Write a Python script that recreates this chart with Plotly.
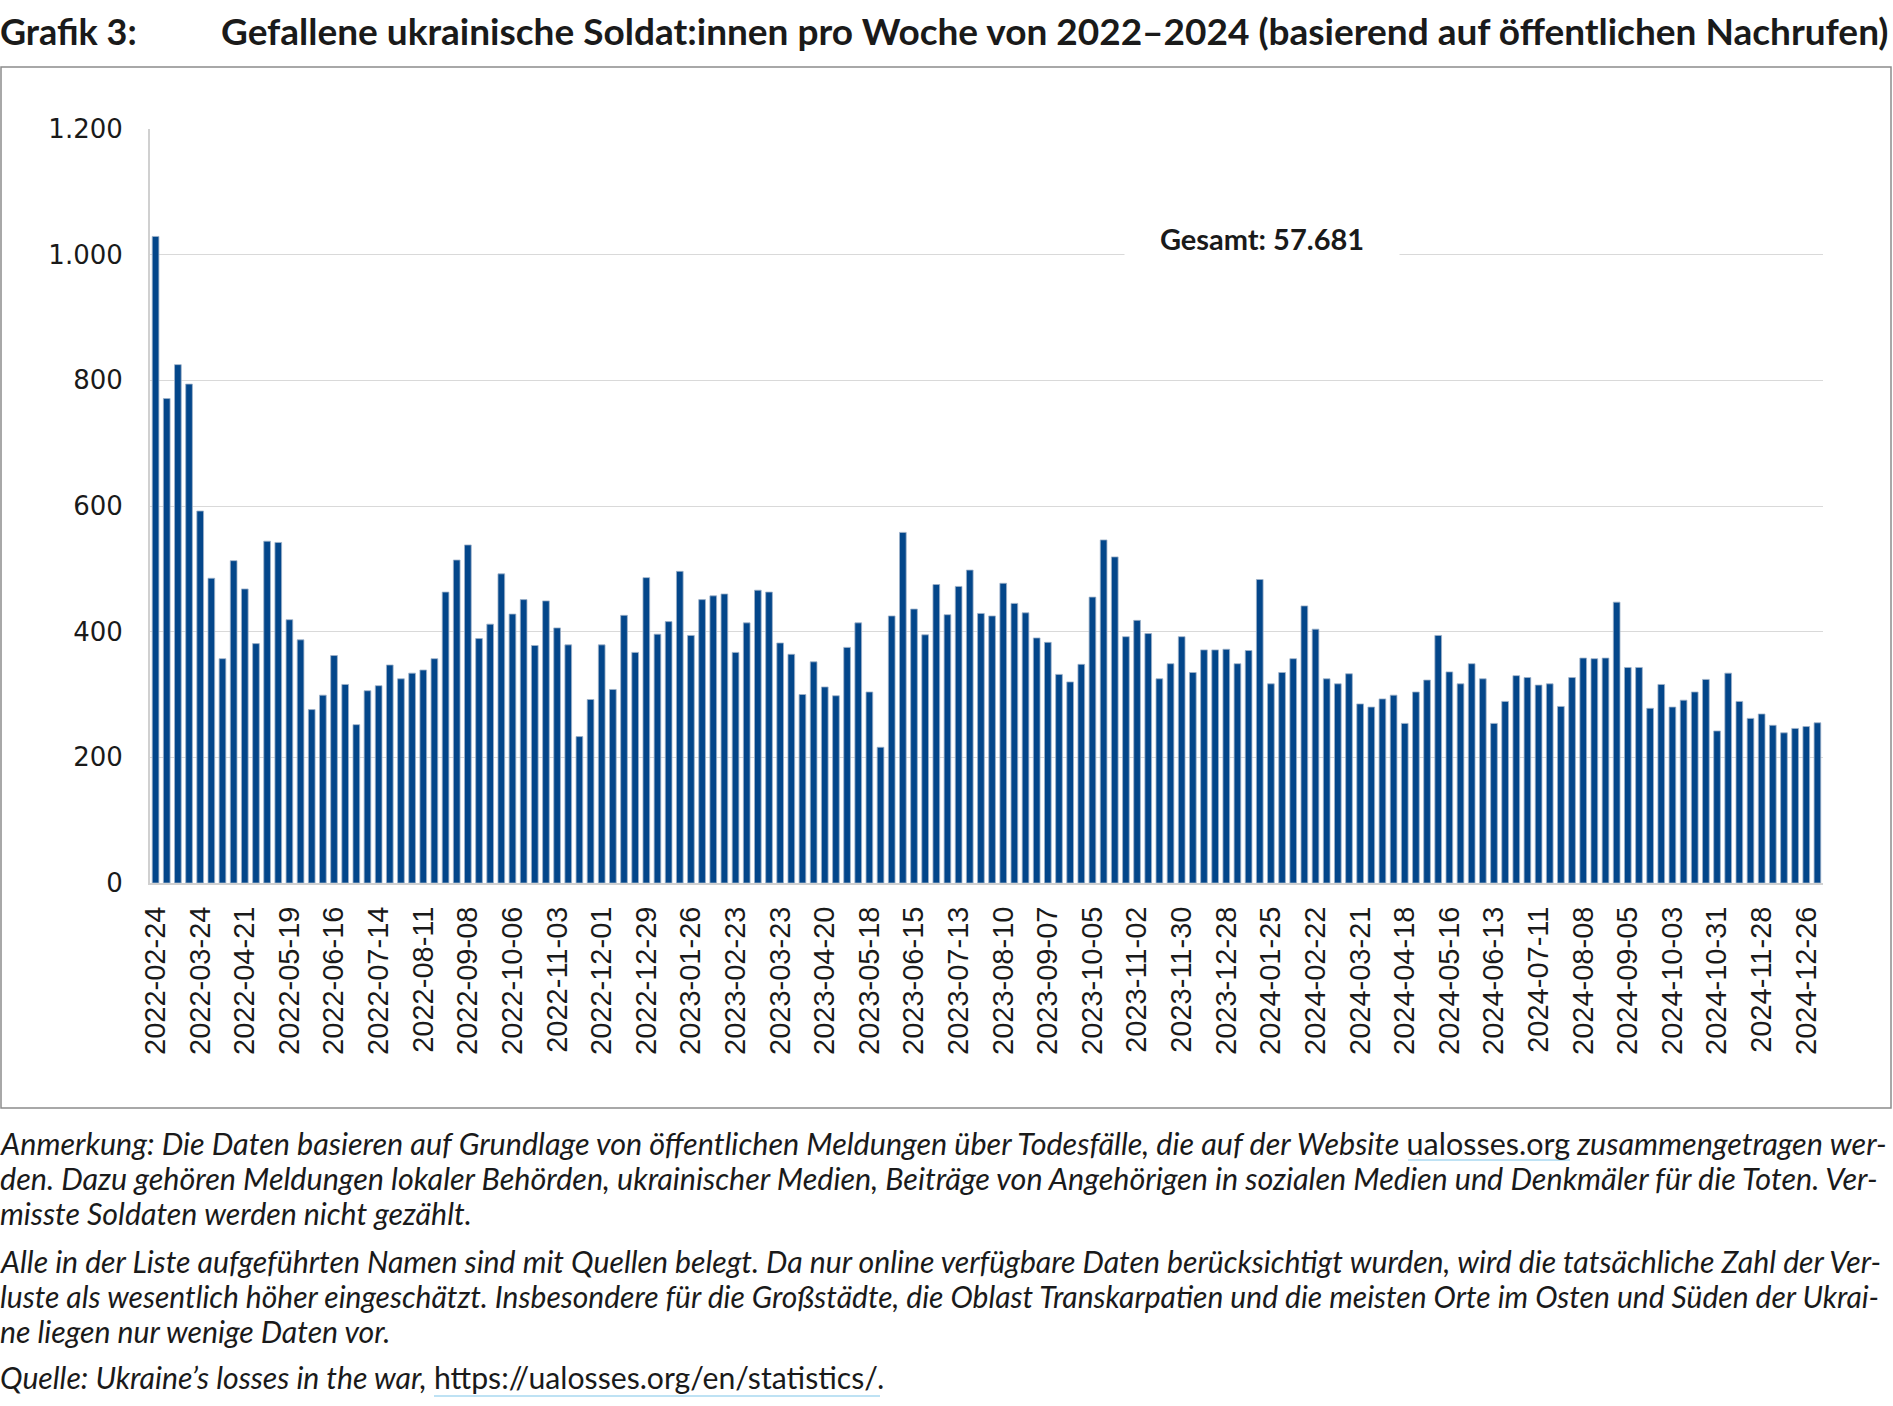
import pandas as pd
import plotly.graph_objects as go

# ---- data ----
first_week = "2022-02-24"
n_weeks = 150
weeks = [d.strftime("%Y-%m-%d") for d in pd.date_range(first_week, periods=n_weeks, freq="7D")]
deaths = [
    1029, 771, 825, 794, 592, 485, 357, 513, 468, 381,
    544, 542, 419, 387, 276, 299, 362, 316, 252, 306,
    314, 347, 325, 334, 339, 357, 463, 514, 538, 389,
    412, 492, 428, 451, 378, 449, 406, 379, 233, 292,
    379, 308, 426, 367, 486, 396, 416, 496, 394, 451,
    457, 460, 367, 414, 466, 463, 382, 364, 300, 352,
    312, 298, 375, 414, 304, 216, 425, 558, 436, 395,
    475, 427, 472, 498, 429, 425, 477, 445, 430, 390,
    383, 332, 320, 348, 455, 546, 519, 392, 418, 397,
    325, 349, 392, 335, 371, 371, 372, 349, 370, 483,
    317, 335, 357, 441, 404, 325, 317, 333, 285, 280,
    293, 299, 254, 304, 323, 394, 336, 317, 349, 325,
    254, 289, 330, 327, 315, 317, 281, 327, 358, 357,
    358, 447, 343, 343, 278, 316, 280, 291, 304, 324,
    242, 334, 289, 262, 269, 251, 239, 246, 249, 255,
]
tick_weeks = weeks[0:149:4]
y_ticks = [0, 200, 400, 600, 800, 1000, 1200]
y_tick_labels = ["0", "200", "400", "600", "800", "1.000", "1.200"]

title_label = "Grafik 3:"
title_text = "Gefallene ukrainische Soldat:innen pro Woche von 2022–2024 (basierend auf öffentlichen Nachrufen)"
total_text = "Gesamt: 57.681"
note_lines = [
    "<i>Anmerkung: Die Daten basieren auf Grundlage von öffentlichen Meldungen über Todesfälle, die auf der Website </i>"
    "ualosses.org<i> zusammengetragen wer-</i>",
    "<i>den. Dazu gehören Meldungen lokaler Behörden, ukrainischer Medien, Beiträge von Angehörigen in sozialen Medien und Denkmäler für die Toten. Ver-</i>",
    "<i>misste Soldaten werden nicht gezählt.</i>",
    "<i>Alle in der Liste aufgeführten Namen sind mit Quellen belegt. Da nur online verfügbare Daten berücksichtigt wurden, wird die tatsächliche Zahl der Ver-</i>",
    "<i>luste als wesentlich höher eingeschätzt. Insbesondere für die Großstädte, die Oblast Transkarpatien und die meisten Orte im Osten und Süden der Ukrai-</i>",
    "<i>ne liegen nur wenige Daten vor.</i>",
    "<i>Quelle: Ukraine’s losses in the war, </i>https://ualosses.org/en/statistics/<i>.</i>",
]
note_y = [1143, 1178, 1213, 1261, 1296, 1331, 1377]
note_size = [30.5, 30.5, 30.3, 30.2, 30.0, 30.2, 30.2]

# ---- layout geometry (pixels) ----
W, H = 1893, 1406
L, R, T, B = 150, 70, 129, 523
pw, ph = W - L - R, H - T - B


def px(x):
    return (x - L) / pw


def py(y):
    return (H - B - y) / ph


BAR = "#03468a"
TXT = "#1a1a1a"

fig = go.Figure()
fig.add_trace(go.Bar(
    x=weeks, y=deaths,
    marker=dict(color=BAR, line=dict(color="#9fb2c9", width=0.8)),
    hoverinfo="x+y",
))

fig.update_layout(
    width=W, height=H,
    margin=dict(l=L, r=R, t=T, b=B),
    paper_bgcolor="white", plot_bgcolor="white",
    showlegend=False, bargap=0.4,
    font=dict(family="Lato", color=TXT),
)
fig.update_xaxes(
    type="category", range=[-0.5, n_weeks - 0.5],
    tickmode="array", tickvals=tick_weeks, ticktext=tick_weeks,
    tickangle=-90, tickfont=dict(family="Liberation Sans", size=29, color=TXT),
    showgrid=False, showline=True, linecolor="#d0d0d0", linewidth=2,
    ticks="", ticklabelstandoff=10,
)
fig.update_yaxes(
    range=[0, 1200], tickmode="array", tickvals=y_ticks, ticktext=y_tick_labels,
    tickfont=dict(family="DejaVu Sans", size=26, color=TXT),
    showgrid=True, gridcolor="#d9d9d9", gridwidth=1,
    showline=True, linecolor="#d0d0d0", linewidth=2, zeroline=False,
    ticks="", ticklabelstandoff=20,
)

# outer frame around chart
fig.add_shape(type="rect", xref="paper", yref="paper",
              x0=px(1), x1=px(1891), y0=py(1108), y1=py(67),
              line=dict(color="#8c8c8c", width=1.5), fillcolor="rgba(0,0,0,0)", layer="below")

# link underlines
for x0, x1, yy in [(1408, 1570, 1160), (434, 880, 1396)]:
    fig.add_shape(type="line", xref="paper", yref="paper",
                  x0=px(x0), x1=px(x1), y0=py(yy), y1=py(yy),
                  line=dict(color="#a9d8f0", width=1.5))

# titles
fig.add_annotation(xref="paper", yref="paper", x=px(-2), y=py(31), xanchor="left", yanchor="middle",
                   text="<b>" + title_label + "</b>", showarrow=False,
                   font=dict(family="Lato", size=36, color=TXT))
fig.add_annotation(xref="paper", yref="paper", x=px(219), y=py(31), xanchor="left", yanchor="middle",
                   text="<b>" + title_text + "</b>", showarrow=False,
                   font=dict(family="Lato", size=37, color=TXT))

# total label
fig.add_annotation(xref="paper", yref="paper", x=px(1262), y=py(238), xanchor="center", yanchor="middle",
                   text="<b>" + total_text + "</b>", showarrow=False, bgcolor="white", width=272,
                   font=dict(family="Lato", size=29, color=TXT))

# notes
for txt, yc, fs in zip(note_lines, note_y, note_size):
    fig.add_annotation(xref="paper", yref="paper", x=px(-2), y=py(yc), xanchor="left", yanchor="middle",
                       text=txt, showarrow=False, align="left",
                       font=dict(family="Lato", size=fs, color=TXT))

fig.write_html("out.html", config={"displayModeBar": False},
               post_script="document.body.style.margin='0';")
